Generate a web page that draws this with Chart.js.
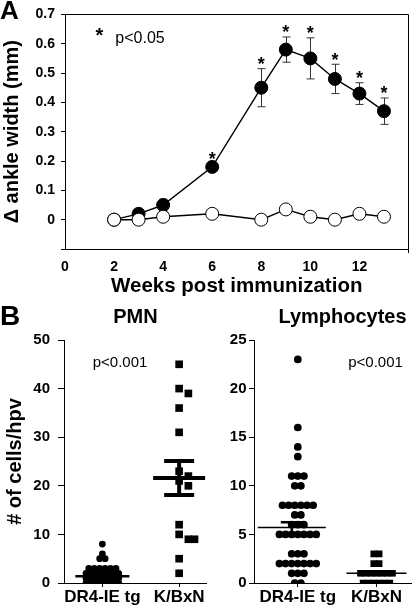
<!DOCTYPE html>
<html>
<head>
<meta charset="utf-8">
<script src="https://cdn.jsdelivr.net/npm/chart.js@4.4.0/dist/chart.umd.min.js"></script>
<style>
  body { margin: 0; background: #fff; }
  #wrap { position: relative; width: 416px; height: 612px; }
  canvas { position: absolute; }
</style>
</head>
<body>
<div id="wrap">
  <canvas id="chartA" width="416" height="300" style="left:0;top:0"></canvas>
  <canvas id="chartPmn" width="212" height="312" style="left:0;top:300px"></canvas>
  <canvas id="chartLym" width="204" height="312" style="left:212px;top:300px"></canvas>
</div>
<script>
// panel A: ankle swelling over time
const weeks = [2, 3, 4, 6, 8, 9, 10, 11, 12, 13];
const kbxnAnkle = [0, 0.02, 0.05, 0.18, 0.45, 0.58, 0.55, 0.48, 0.43, 0.37];
const kbxnErr = [0, 0.008, 0.02, 0.012, 0.065, 0.043, 0.07, 0.05, 0.037, 0.045];
const dr4Ankle = [0, 0, 0.01, 0.02, 0, 0.035, 0.01, 0, 0.02, 0.01];
const signif = [false, false, false, true, true, true, true, true, true, true];
const xTicksA = [0, 2, 4, 6, 8, 10, 12];
const yTicksA = [-0.1, 0, 0.1, 0.2, 0.3, 0.4, 0.5, 0.6, 0.7];

// panel B: cells per high power view
const groups = ['DR4-IE tg', 'K/BxN'];
const pmnDr4 = [8, 6, 5, 5, 3, 3, 3, 3, 3, 3, 2, 2, 2, 2, 2, 2, 2, 1, 1, 1, 1, 1, 1, 1, 0, 0, 0, 0, 0, 0, 0];
const pmnKbxn = [45, 40, 39, 36, 31, 23, 22, 21, 20, 12, 10, 9, 9, 5, 2];
const pmnMean = [1.4, 21.6];
const pmnSem = [0.35, 3.5];
const lymDr4 = [23, 16, 14, 13, 11, 11, 11, 10, 10, 8, 8, 8, 8, 8, 8, 7, 7, 6, 6, 6,
  5, 5, 5, 5, 5, 5, 5, 3, 3, 3, 2, 2, 2, 2, 2, 2, 2, 1, 1, 1, 0, 0];
const lymKbxn = [3, 3, 2, 2, 1, 1, 1, 1, 1, 1, 1, 0, 0, 0, 0, 0, 0];
const lymMean = [5.7, 1.0];
const lymSem = [0.55, 0.15];
const pmnTicks = [0, 10, 20, 30, 40, 50];
const lymTicks = [0, 5, 10, 15, 20, 25];

const FONT = "'Liberation Sans', Arial, Helvetica, sans-serif";
Chart.defaults.font.family = FONT;
Chart.defaults.color = '#000';

const texts = {
  id: 'texts',
  afterDraw(chart) {
    const ctx = chart.ctx;
    (chart.config.options.textItems || []).forEach(t => {
      ctx.save();
      ctx.font = t.font + ' ' + FONT;
      ctx.fillStyle = '#000';
      ctx.textAlign = t.align || 'center';
      ctx.textBaseline = t.base || 'alphabetic';
      ctx.fillText(t.text, t.x, t.y);
      ctx.restore();
    });
  }
};

const frame = {
  id: 'frame',
  afterDraw(chart) {
    const {ctx, chartArea: a} = chart;
    ctx.save();
    ctx.strokeStyle = '#000';
    ctx.lineWidth = 1;
    ctx.beginPath();
    ctx.moveTo(a.left, Math.round(a.top) + 0.5);
    ctx.lineTo(Math.round(a.right) - 0.5, Math.round(a.top) + 0.5);
    ctx.lineTo(Math.round(a.right) - 0.5, a.bottom + 4);
    ctx.stroke();
    ctx.restore();
  }
};

const errorBars = {
  id: 'errorBars',
  beforeDatasetsDraw(chart) {
    const {ctx, scales: {x, y}} = chart;
    ctx.save();
    ctx.strokeStyle = '#333';
    ctx.lineWidth = 1;
    weeks.forEach((w, i) => {
      const e = kbxnErr[i];
      if (!e) return;
      const px = Math.round(x.getPixelForValue(w)) + 0.5;
      const top = y.getPixelForValue(kbxnAnkle[i] + e);
      const bot = y.getPixelForValue(kbxnAnkle[i] - e);
      ctx.beginPath();
      ctx.moveTo(px, top); ctx.lineTo(px, bot);
      ctx.moveTo(px - 4, top); ctx.lineTo(px + 4, top);
      ctx.moveTo(px - 4, bot); ctx.lineTo(px + 4, bot);
      ctx.stroke();
    });
    ctx.restore();
  },
  afterDatasetsDraw(chart) {
    // significance stars above the error bars
    const {ctx, scales: {x, y}} = chart;
    ctx.save();
    ctx.font = 'bold 18px ' + FONT;
    ctx.fillStyle = '#000';
    ctx.textAlign = 'center';
    ctx.textBaseline = 'alphabetic';
    weeks.forEach((w, i) => {
      if (!signif[i]) return;
      const top = y.getPixelForValue(kbxnAnkle[i] + kbxnErr[i]);
      ctx.fillText('*', x.getPixelForValue(w), top - 9 + 10.5);
    });
    ctx.restore();
  }
};

new Chart(document.getElementById('chartA'), {
  type: 'scatter',
  data: {
    datasets: [
      {
        data: weeks.map((w, i) => ({x: w, y: dr4Ankle[i]})),
        showLine: true, borderColor: '#000', borderWidth: 1.4,
        pointRadius: 6.5, pointBackgroundColor: '#fff', pointBorderColor: '#000', pointBorderWidth: 1
      },
      {
        data: weeks.map((w, i) => ({x: w, y: kbxnAnkle[i]})),
        showLine: true, borderColor: '#000', borderWidth: 1.4,
        pointRadius: 6.5, pointBackgroundColor: '#000', pointBorderColor: '#000', pointBorderWidth: 1
      }
    ]
  },
  options: {
    responsive: false, animation: false, events: [],
    layout: {padding: {top: 4, right: 1, left: 0, bottom: 0}},
    scales: {
      x: {
        type: 'linear', min: 0, max: 14,
        afterBuildTicks: s => { s.ticks = xTicksA.map(v => ({value: v})); },
        afterFit: s => { s.height = 51; },
        grid: {display: false, drawTicks: false},
        border: {display: true, color: '#000'},
        ticks: {color: '#000', font: {size: 14, weight: 'bold'}, padding: 10, maxRotation: 0},
        title: {display: true, text: 'Weeks post immunization', color: '#000',
          font: {size: 20.5, weight: 'bold'}, padding: {top: 0, bottom: 1}}
      },
      y: {
        min: -0.1, max: 0.7,
        afterBuildTicks: s => { s.ticks = yTicksA.map(v => ({value: v})); },
        afterFit: s => { s.width = 65; },
        grid: {display: true, drawOnChartArea: false, tickLength: 4, color: '#000'},
        border: {display: true, color: '#000'},
        ticks: {color: '#000', font: {size: 14, weight: 'bold'}, padding: 6,
          callback: v => v < 0 ? '' : (v === 0 ? '0' : v.toFixed(1))},
        title: {display: true, text: 'Δ ankle width (mm)', color: '#000',
          font: {size: 20, weight: 'bold'}, padding: {top: 0, bottom: 0}}
      }
    },
    plugins: {legend: {display: false}, tooltip: {enabled: false}},
    textItems: [
      {text: 'A', x: 0, y: 18.5, font: 'bold 26px', align: 'left'},
      {text: '*', x: 99.5, y: 42, font: 'bold 20px'},
      {text: 'p<0.05', x: 140, y: 43, font: '16px'}
    ]
  },
  plugins: [frame, errorBars, texts]
});

// mean and SEM bars for the dot plots
const meanBars = {
  id: 'meanBars',
  afterDatasetsDraw(chart) {
    const {ctx, scales: {x, y}} = chart;
    const o = chart.config.options.meanInfo;
    o.mean.forEach((m, i) => {
      const st = o.style[i];
      const cx = x.getPixelForValue(i + 1) + (st.dx || 0);
      const ym = y.getPixelForValue(m);
      const yt = y.getPixelForValue(m + o.sem[i]);
      const yb = y.getPixelForValue(m - o.sem[i]);
      ctx.save();
      ctx.strokeStyle = '#000';
      ctx.lineWidth = st.mw;
      ctx.beginPath();
      ctx.moveTo(cx - st.mh, ym); ctx.lineTo(cx + st.mh, ym);
      ctx.stroke();
      ctx.lineWidth = st.sw;
      ctx.beginPath();
      ctx.moveTo(cx, yt); ctx.lineTo(cx, yb);
      ctx.moveTo(cx - st.sh, yt); ctx.lineTo(cx + st.sh, yt);
      ctx.moveTo(cx - st.sh, yb); ctx.lineTo(cx + st.sh, yb);
      ctx.stroke();
      ctx.restore();
    });
  }
};

// simple row-based beeswarm: equal values side by side, near neighbours pushed aside
function swarm(chart, values, center, diam, overlap) {
  const xs = chart.scales.x, ys = chart.scales.y;
  const pxX = xs.getPixelForValue(center + 1) - xs.getPixelForValue(center);
  const step = diam * 0.8;
  const placed = [];
  const uniq = [...new Set(values)].sort((a, b) => b - a);
  uniq.forEach(v => {
    const n = values.filter(u => u === v).length;
    const py = ys.getPixelForValue(v);
    const base = [];
    for (let i = 0; i < n; i++) base.push((i - (n - 1) / 2) * step);
    const shifts = [0];
    for (let k = 1; k < 10; k++) shifts.push(k * step / 2, -k * step / 2);
    let chosen = 0;
    for (const s of shifts) {
      const hit = base.some(b => placed.some(p =>
        Math.abs(p.px - (b + s)) < diam * 0.9 && Math.abs(p.py - py) < diam * overlap));
      if (!hit) { chosen = s; break; }
    }
    base.forEach(b => placed.push({px: b + chosen, py, v}));
  });
  return placed.map(p => ({x: center + p.px / pxX, y: p.v}));
}

function dotChart(id, cfg) {
  return new Chart(document.getElementById(id), {
    type: 'scatter',
    data: {
      datasets: [
        {data: [], pointStyle: 'circle', pointRadius: cfg.r1, pointBackgroundColor: '#000', pointBorderWidth: 0},
        {data: [], pointStyle: 'rect', pointRadius: cfg.r2, pointBackgroundColor: '#000', pointBorderWidth: 0}
      ]
    },
    options: {
      responsive: false, animation: false, events: [],
      layout: {padding: {top: 40, right: cfg.padRight, left: 0, bottom: 0}},
      scales: {
        x: {
          type: 'linear', min: cfg.xmin, max: cfg.xmax,
          afterBuildTicks: s => { s.ticks = [1, 2].map(v => ({value: v})); },
          afterFit: s => { s.height = 29; },
          grid: {display: true, drawOnChartArea: false, tickLength: 4, color: '#000'},
          border: {display: true, color: '#000'},
          ticks: {color: '#000', font: {size: 17, weight: 'bold'}, padding: 0, maxRotation: 0,
            callback: v => groups[v - 1]}
        },
        y: {
          min: 0, max: cfg.ticks[cfg.ticks.length - 1],
          afterBuildTicks: s => { s.ticks = cfg.ticks.map(v => ({value: v})); },
          afterFit: s => { s.width = cfg.yWidth; },
          grid: {display: true, drawOnChartArea: false, tickLength: cfg.tickLen, color: '#000'},
          border: {display: true, color: '#000'},
          ticks: {color: '#000', font: {size: 15, weight: 'bold'}, padding: cfg.tickPad},
          title: cfg.yTitle ? {display: true, text: cfg.yTitle, color: '#000',
            font: {size: 20, weight: 'bold'}, padding: {top: 3, bottom: 0}} : {display: false}
        }
      },
      plugins: {legend: {display: false}, tooltip: {enabled: false}},
      meanInfo: {mean: cfg.mean, sem: cfg.sem, style: cfg.barStyle},
      textItems: cfg.texts
    },
    plugins: [meanBars, texts]
  });
}

const pmnChart = dotChart('chartPmn', {
  r1: 3.4, r2: 5.4, padRight: 6, xmin: 0.5, xmax: 2.35,
  ticks: pmnTicks, yWidth: 64, tickLen: 6, tickPad: 8, yTitle: '# of cells/hpv',
  mean: pmnMean, sem: pmnSem,
  barStyle: [{mw: 2.5, mh: 27, sw: 2.5, sh: 14}, {mw: 4, mh: 26, sw: 4, sh: 15}],
  texts: [
    {text: 'B', x: 0, y: 25, font: 'bold 28px', align: 'left'},
    {text: 'PMN', x: 135.5, y: 23, font: 'bold 20px'},
    {text: 'p<0.001', x: 120, y: 63, font: '15px', base: 'middle'}
  ]
});
pmnChart.data.datasets[0].data = swarm(pmnChart, pmnDr4, 1, 6.8, 0.7);
pmnChart.data.datasets[1].data = swarm(pmnChart, pmnKbxn, 2, 7.7, 0.7);
pmnChart.update('none');

const lymChart = dotChart('chartLym', {
  r1: 3.85, r2: 4.7, padRight: 4, xmin: 0.443, xmax: 2.443,
  ticks: lymTicks, yWidth: 42, tickLen: 5, tickPad: 2.5, yTitle: null,
  mean: lymMean, sem: lymSem,
  barStyle: [{mw: 1.5, mh: 34, sw: 2.5, sh: 11, dx: -6}, {mw: 1.5, mh: 30, sw: 3, sh: 18}],
  texts: [
    {text: 'Lymphocytes', x: 130.5, y: 23, font: 'bold 20px'},
    {text: 'p<0.001', x: 163.5, y: 63, font: '15px', base: 'middle'}
  ]
});
lymChart.data.datasets[0].data = swarm(lymChart, lymDr4, 1, 7.7, 0.7);
lymChart.data.datasets[1].data = swarm(lymChart, lymKbxn, 2, 6.7, 0.7);
lymChart.update('none');
</script>
</body>
</html>
